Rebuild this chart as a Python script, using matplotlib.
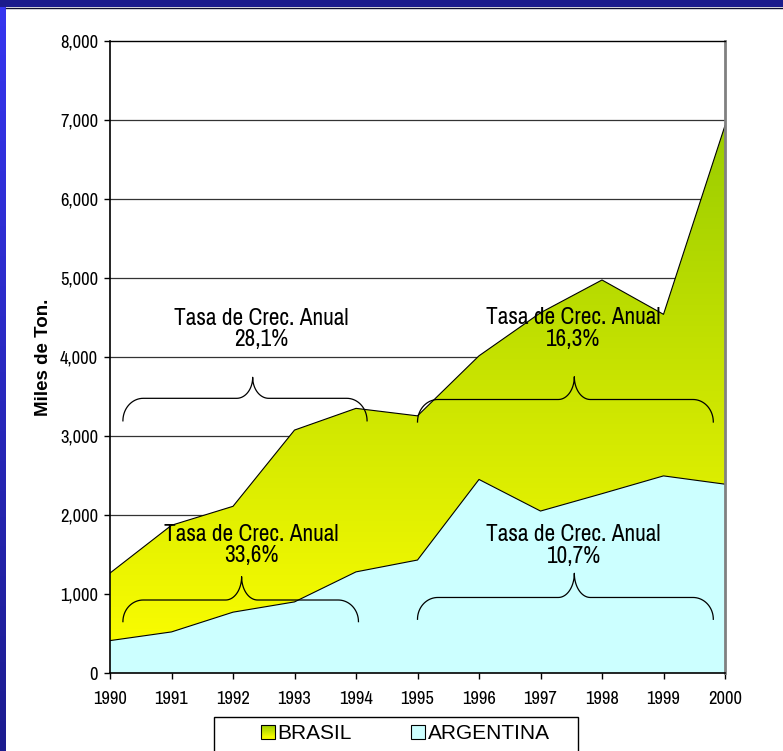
import numpy as np
import matplotlib
matplotlib.use('Agg')
import matplotlib.pyplot as plt
from matplotlib.patches import Rectangle, Patch
from matplotlib.legend_handler import HandlerBase
from matplotlib.ticker import FuncFormatter

# data (miles de ton.)
years = [1990, 1991, 1992, 1993, 1994, 1995, 1996, 1997, 1998, 1999, 2000]
argentina = [410, 520, 770, 900, 1280, 1430, 2450, 2050, 2270, 2495, 2390]
brasil = [855, 1350, 1340, 2175, 2070, 1825, 1565, 2510, 2705, 2045, 4540]
series_names = ['BRASIL', 'ARGENTINA']

# growth rate notes: text, x, y
note_text = ['Tasa de Crec. Anual\n28,1%', 'Tasa de Crec. Anual\n33,6%',
             'Tasa de Crec. Anual\n16,3%', 'Tasa de Crec. Anual\n10,7%']
note_x = [1992.46, 1992.30, 1997.53, 1997.54]
note_y = [4354, 1620, 4358, 1615]
# braces: x start, x end, x tip, y ends, y flat, y tip
brace_x0 = [1990.21, 1990.21, 1995.0, 1995.0]
brace_x1 = [1994.18, 1994.04, 1999.81, 1999.81]
brace_xm = [1992.32, 1992.14, 1997.55, 1997.55]
brace_yend = [3192, 650, 3177, 680]
brace_yh = [3477, 924, 3462, 956]
brace_ytip = [3743, 1219, 3750, 1262]

narrow = ['Archivo Narrow', 'Liberation Sans', 'DejaVu Sans']
arial = ['Liberation Sans', 'DejaVu Sans']

yellow = np.array([1.0, 1.0, 0.0])
green = np.array([0.6, 0.8, 0.0])
cyan = '#ccffff'

total = np.array(argentina) + np.array(brasil)

fig = plt.figure(figsize=(7.83, 7.51), dpi=100)
fig.patch.set_facecolor('white')

# blue frame on top and left
fig.add_artist(Rectangle((0, 1 - 7/751), 1, 7/751, transform=fig.transFigure,
                         facecolor='#1b1b8c', edgecolor='none'))
fig.add_artist(plt.Line2D([6/783, 1], [1 - 7.5/751, 1 - 7.5/751], transform=fig.transFigure,
                          color='#101030', lw=1))
bax = fig.add_axes([0, 0, 6/783, 1 - 7/751])
side = np.linspace(0, 1, 200)[:, None, None] * (np.array([0.21, 0.21, 0.94]) - np.array([0.11, 0.11, 0.56])) + np.array([0.11, 0.11, 0.56])
bax.imshow(side[::-1], aspect='auto', origin='upper', extent=[0, 1, 0, 1])
bax.set_axis_off()

ax = fig.add_axes([110/783, 78/751, 615/783, 632/751])

for v in range(1000, 8000, 1000):
    ax.axhline(v, color='#333333', lw=0.9, zorder=1)

poly_a = ax.fill_between(years, 0, argentina, facecolor=cyan, edgecolor='none', zorder=2)
poly_b = ax.fill_between(years, argentina, total, facecolor='none', edgecolor='none', zorder=2)

grad = np.linspace(0, 1, 256)[:, None, None] * (green - yellow) + yellow
im = ax.imshow(grad, extent=[1990, 2000, 0, 7000], origin='lower', aspect='auto', zorder=2)
im.set_clip_path(poly_b.get_paths()[0], transform=ax.transData)

ax.plot(years, total, color='black', lw=0.8, zorder=3)
ax.plot(years, argentina, color='black', lw=0.8, zorder=3)

ax.set_xlim(1990, 2000)
ax.set_ylim(0, 8000)
ax.set_xticks(years)
ax.set_yticks(range(0, 8001, 1000))
ax.yaxis.set_major_formatter(FuncFormatter(lambda v, p: f'{int(v):,}'))
ax.tick_params(axis='both', direction='out', length=4, width=1, color='black')
ax.tick_params(axis='y', pad=4.5)
ax.tick_params(axis='x', pad=9)
for lab in ax.get_xticklabels() + ax.get_yticklabels():
    lab.set_family(narrow)
    lab.set_fontsize(13.3)

ax.spines['top'].set_color('black')
ax.spines['top'].set_linewidth(1)
ax.spines['right'].set_color('#808080')
ax.spines['right'].set_linewidth(2)
ax.spines['left'].set_linewidth(1.2)
ax.spines['bottom'].set_linewidth(1.2)
for s in ax.spines.values():
    s.set_zorder(4)

ax.set_ylabel('Miles de Ton.', family=arial, fontsize=13.5, fontweight='bold')
ax.yaxis.set_label_coords(-0.094, 0.5)

# braces
for i in range(4):
    x0, x1, xm = brace_x0[i], brace_x1[i], brace_xm[i]
    ye, yh, yt = brace_yend[i], brace_yh[i], brace_ytip[i]
    rx, rxm = 0.33, 0.26
    t = np.linspace(np.pi, np.pi/2, 20)
    px = list(x0 + rx + rx*np.cos(t))
    py = list(ye + (yh - ye)*np.sin(t))
    t = np.linspace(1.5*np.pi, 2*np.pi, 20)
    px += list(xm - rxm + rxm*np.cos(t))
    py += list(yt + (yt - yh)*np.sin(t))
    t = np.linspace(np.pi, 1.5*np.pi, 20)
    px += list(xm + rxm + rxm*np.cos(t))
    py += list(yt + (yt - yh)*np.sin(t))
    t = np.linspace(np.pi/2, 0, 20)
    px += list(x1 - rx + rx*np.cos(t))
    py += list(ye + (yh - ye)*np.sin(t))
    ax.plot(px, py, color='black', lw=0.9, zorder=5)

for i in range(4):
    ax.text(note_x[i], note_y[i], note_text[i], ha='center', va='center',
            family=narrow, fontsize=16.8, linespacing=1.05, zorder=6)


class GradientHandler(HandlerBase):
    def create_artists(self, legend, orig_handle, xdescent, ydescent, width, height, fontsize, trans):
        arts = []
        n = 12
        for i in range(n):
            f = (i + 0.5) / n
            c = yellow + f*(green - yellow)
            arts.append(Rectangle((-xdescent, -ydescent + height*i/n), width, height/n,
                                  facecolor=c, edgecolor='none', transform=trans))
        arts.append(Rectangle((-xdescent, -ydescent), width, height, facecolor='none',
                              edgecolor='black', lw=0.8, transform=trans))
        return arts


h_b = Patch(facecolor='#d0e400', edgecolor='black')
h_a = Patch(facecolor=cyan, edgecolor='black', lw=0.8)
fig.legend([h_b, h_a], series_names, handler_map={h_b: GradientHandler()},
           loc='upper left', bbox_to_anchor=(261/783, 1 - 724/751), bbox_transform=fig.transFigure,
           ncol=2, frameon=False, borderpad=0, borderaxespad=0, handlelength=0.67,
           handleheight=0.67, handletextpad=0.12, columnspacing=2.85,
           prop={'family': arial, 'size': 15})
fig.add_artist(Rectangle((214/783, -0.01), 364/783, 0.01 + 1 - 717/751, transform=fig.transFigure,
                         facecolor='none', edgecolor='black', lw=1))

fig.savefig('out.png', dpi=100)
